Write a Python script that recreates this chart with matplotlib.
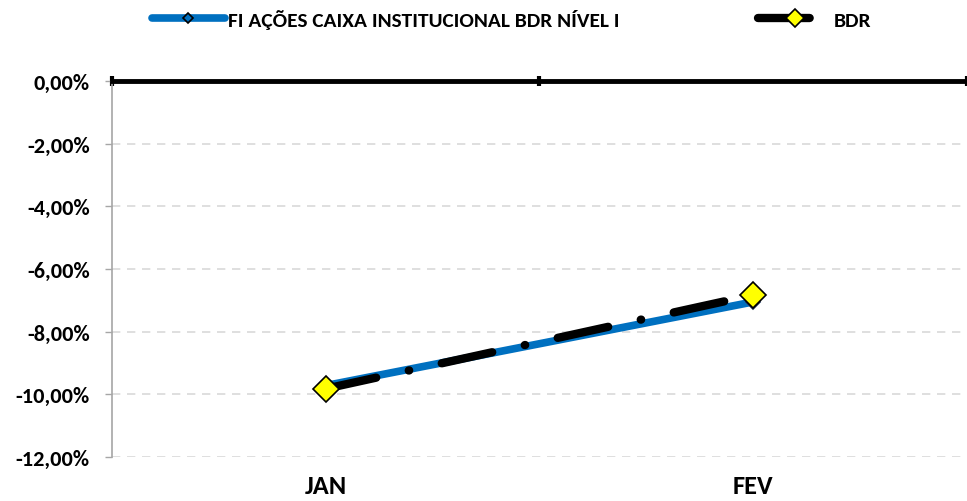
import matplotlib
matplotlib.use("Agg")
import matplotlib.pyplot as plt
from matplotlib import font_manager

avail = set(f.name for f in font_manager.fontManager.ttflist)
fam = 'DejaVu Sans'
for cand in ['Carlito', 'Liberation Sans Narrow', 'Open Sans Condensed', 'Roboto Condensed',
             'PT Sans Narrow', 'Archivo Narrow', 'Fira Sans Condensed', 'Lato']:
    if cand in avail:
        fam = cand
        break
plt.rcParams['font.family'] = [fam, 'DejaVu Sans']

categories = ['JAN', 'FEV']
fi_values = [-9.72, -7.05]
bdr_values = [-9.82, -6.83]
yticks = [0, -2, -4, -6, -8, -10, -12]
series_names = ['FI AÇÕES CAIXA INSTITUCIONAL BDR NÍVEL I', 'BDR']

fig = plt.figure(figsize=(9.67, 5.02), dpi=100)
ax = fig.add_axes([0.1158, 0.0876, 0.8842, 0.7491])
x = list(range(len(categories)))

ax.plot(x, fi_values, color='#0070C0', lw=5.5, marker='D', ms=7,
        mfc='#0070C0', mec='#1F3864', mew=1.2, solid_capstyle='round', zorder=3,
        label=series_names[0])
ax.plot(x, bdr_values, color='black', lw=6, dashes=(6.2, 4, 0.05, 4),
        dash_capstyle='round', marker='D', ms=13, mfc='#FFFF00', mec='black', mew=1.2,
        zorder=4, label=series_names[1])

ax.set_xlim(-0.5, 1.5)
ax.set_ylim(-12, 0)
ax.set_yticks(yticks)
ax.set_yticklabels([f"{v:.2f}".replace('.', ',') + '%' for v in yticks],
                   fontsize=16, fontweight='bold')
ax.yaxis.grid(True, color='#D9D9D9', ls=(0, (5, 4)), lw=1.2)
ax.set_axisbelow(True)

ax.set_xticks(x)
ax.set_xticklabels(categories, fontsize=19, fontweight='bold')
ax.tick_params(axis='x', which='major', length=0, pad=12)
ax.tick_params(axis='y', length=5, color='#A6A6A6', width=1, pad=11)

# category boundary ticks on the zero line (top)
ax.set_xticks([-0.5, 0.5, 1.5], minor=True)
ax.tick_params(axis='x', which='minor', top=True, bottom=False, direction='inout',
               length=7, width=3, color='black')

for s in ['right', 'bottom']:
    ax.spines[s].set_visible(False)
ax.spines['left'].set_color('#A6A6A6')
ax.spines['left'].set_linewidth(1.2)
ax.spines['top'].set_color('black')
ax.spines['top'].set_linewidth(3.5)

leg = fig.legend(loc='upper left', bbox_to_anchor=(0.157, 0.981), ncol=2, frameon=False,
                 prop={'family': fam, 'weight': 'bold', 'size': 15.4},
                 borderpad=0, borderaxespad=0,
                 columnspacing=6.5, handlelength=3.4, handletextpad=0.15, markerscale=0.7)
leg.legend_handles[0].set_markeredgecolor('black')

fig.savefig('out.png', dpi=100)
